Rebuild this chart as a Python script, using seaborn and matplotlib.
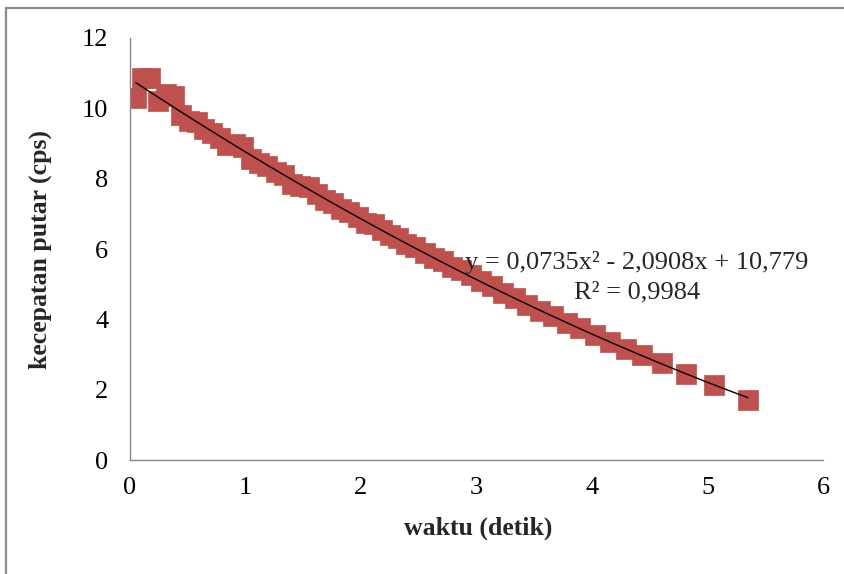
import numpy as np
import pandas as pd
import matplotlib.pyplot as plt
import matplotlib.patches as mpatches
import seaborn as sns

# data
waktu = [0.05, 0.10, 0.17, 0.24, 0.31, 0.38, 0.44, 0.51, 0.58, 0.64,
         0.71, 0.78, 0.84, 0.91, 0.98, 1.05, 1.12, 1.19, 1.26, 1.33,
         1.40, 1.47, 1.55, 1.62, 1.69, 1.76, 1.83, 1.90, 1.97, 2.04,
         2.11, 2.18, 2.25, 2.32, 2.39, 2.47, 2.55, 2.63, 2.71, 2.79,
         2.87, 2.95, 3.04, 3.13, 3.23, 3.33, 3.44, 3.55, 3.66, 3.78,
         3.90, 4.03, 4.16, 4.29, 4.43, 4.61, 4.81, 5.06, 5.35]
kecepatan = [10.30, 10.85, 10.85, 10.20, 10.40, 10.35, 9.80, 9.65, 9.60, 9.40,
             9.30, 9.15, 8.95, 9.00, 8.90, 8.55, 8.45, 8.35, 8.20, 8.10,
             7.85, 7.80, 7.75, 7.55, 7.40, 7.30, 7.15, 7.05, 6.90, 6.75,
             6.70, 6.55, 6.40, 6.30, 6.15, 6.05, 5.90, 5.75, 5.65, 5.50,
             5.40, 5.25, 5.10, 4.95, 4.75, 4.60, 4.40, 4.25, 4.10, 3.90,
             3.75, 3.55, 3.35, 3.15, 3.00, 2.75, 2.44, 2.13, 1.70]
persamaan = "y = 0,0735x² - 2,0908x + 10,779"
r_kuadrat = "R² = 0,9984"

df = pd.DataFrame({'waktu': waktu, 'kecepatan': kecepatan})

sns.set_style('white')
plt.rcParams['font.family'] = ['Liberation Serif', 'DejaVu Serif']

fig, ax = plt.subplots(figsize=(8.45, 5.74), dpi=100)
fig.subplots_adjust(left=0.1538, right=0.974, bottom=0.1986, top=0.9338)

# bingkai chart area
frame = mpatches.Rectangle((6 / 845, -0.1), 1.2, 1 - 8 / 574 + 0.1,
                           transform=fig.transFigure, fill=False,
                           edgecolor='#8c8c8c', linewidth=1.6, clip_on=False)
fig.patches.append(frame)

sns.scatterplot(data=df, x='waktu', y='kecepatan', marker='s', s=220,
                color='#C0504D', edgecolor='#C0504D', linewidth=0.5,
                ax=ax, zorder=2)
sns.regplot(data=df, x='waktu', y='kecepatan', order=2, scatter=False,
            ci=None, truncate=True, ax=ax,
            line_kws={'color': 'black', 'linewidth': 1.0, 'zorder': 3})

ax.set_xlim(0, 6)
ax.set_ylim(0, 12)
ax.set_xticks(range(0, 7))
ax.set_yticks(range(0, 13, 2))

for side in ['top', 'right']:
    ax.spines[side].set_visible(False)
for side in ['left', 'bottom']:
    ax.spines[side].set_color('#868686')
    ax.spines[side].set_linewidth(1.0)

ax.tick_params(axis='both', direction='out', length=4.5, width=0.9,
               color='#868686', labelsize=19, labelcolor='black')
ax.tick_params(axis='y', pad=11)
ax.tick_params(axis='x', pad=8)

ax.set_xlabel('waktu (detik)', fontsize=18.5, fontweight='bold')
ax.set_ylabel('kecepatan putar (cps)', fontsize=18.5, fontweight='bold',
              va='center')
ax.xaxis.set_label_coords(0.503, -0.135)
ax.yaxis.set_label_coords(-0.13, 0.5)

ax.text(0.7316, 0.467, persamaan, transform=ax.transAxes, ha='center',
        va='center', fontsize=19, zorder=4)
ax.text(0.7316, 0.398, r_kuadrat, transform=ax.transAxes, ha='center',
        va='center', fontsize=19, zorder=4)

plt.savefig('out.png', dpi=100)
